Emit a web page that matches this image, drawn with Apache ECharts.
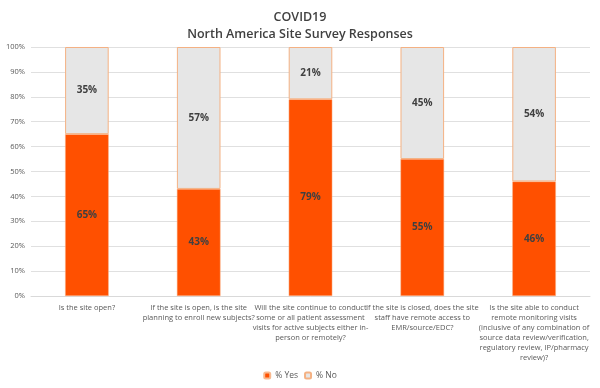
<!DOCTYPE html>
<html><head><meta charset="utf-8">
<script src="https://cdn.jsdelivr.net/npm/echarts@6/dist/echarts.min.js"></script>
<style>html,body{margin:0;padding:0;background:#fff}#c{width:600px;height:388px}</style>
</head><body><div id="c"></div>
<script>
const categories = [
  "Is the site open?",
  "If the site is open, is the site\nplanning to enroll new subjects?",
  "Will the site continue to conduct\nsome or all patient assessment\nvisits for active subjects either in-\nperson or remotely?",
  "If the site is closed, does the site\nstaff have remote access to\nEMR/source/EDC?",
  "Is the site able to conduct\nremote monitoring visits\n(inclusive of any combination of\nsource data review/verification,\nregulatory review, IP/pharmacy\nreview)?"
];
const yesValues = [65, 43, 79, 55, 46];
const noValues = [35, 57, 21, 45, 54];
const seriesNames = ["% Yes", "% No"];
const titleLines = ["COVID19", "North America Site Survey Responses"];

const chart = echarts.init(document.getElementById('c'));
const labelStyle = {show: true, position: 'inside', formatter: p => p.value + '%', fontSize: 10, fontWeight: 'bold', color: '#404040', fontFamily: 'Open Sans'};
chart.setOption({
  animation: false,
  title: {text: titleLines.join('\n'), left: 'center', top: 4, textStyle: {fontSize: 12.5, fontWeight: 600, color: '#404040', lineHeight: 17, fontFamily: 'Open Sans'}},
  grid: {left: 31, right: 10, top: 47, bottom: 92},
  legend: {bottom: 3, left: 'center', itemWidth: 6, itemHeight: 6, itemGap: 6, textStyle: {fontSize: 8.5, color: '#595959', fontFamily: 'Open Sans'}, data: seriesNames},
  xAxis: {type: 'category', data: categories, axisTick: {show: false}, axisLine: {lineStyle: {color: '#d9d9d9'}},
    axisLabel: {interval: 0, fontSize: 7.5, lineHeight: 10, color: '#595959', margin: 7, fontFamily: 'Open Sans'}},
  yAxis: {type: 'value', min: 0, max: 100, interval: 10, axisLabel: {formatter: '{value}%', fontSize: 7.5, color: '#595959', margin: 6, fontFamily: 'Open Sans'},
    splitLine: {lineStyle: {color: '#e0e0e0'}}},
  series: [
    {name: seriesNames[0], type: 'bar', stack: 's', data: yesValues, barWidth: '39%', itemStyle: {color: '#FF5000', borderColor: '#F8B98F', borderWidth: 0.5}, label: labelStyle},
    {name: seriesNames[1], type: 'bar', stack: 's', data: noValues, barWidth: '39%', itemStyle: {color: '#E6E6E6', borderColor: '#F4B183', borderWidth: 1}, label: labelStyle}
  ]
});
</script></body></html>
